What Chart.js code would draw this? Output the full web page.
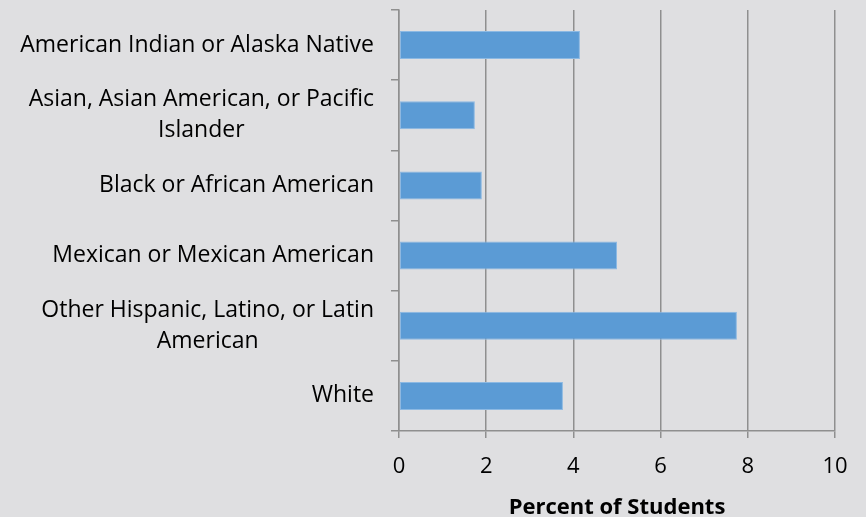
<!DOCTYPE html>
<html>
<head>
<meta charset="utf-8">
<script src="https://cdn.jsdelivr.net/npm/chart.js@4"></script>
<style>
  html,body{margin:0;padding:0;background:#dfdfe1}
  #wrap{width:866px;height:517px}
</style>
</head>
<body>
<div id="wrap"><canvas id="c"></canvas></div>
<script>
// data
const categories = [
  ['American Indian or Alaska Native'],
  ['Asian, Asian American, or Pacific', 'Islander'],
  ['Black or African American'],
  ['Mexican or Mexican American'],
  ['Other Hispanic, Latino, or Latin', 'American'],
  ['White']
];
const percents = [4.15, 1.74, 1.9, 5.0, 7.75, 3.76];
const xTicks = [0, 2, 4, 6, 8, 10];
const xTitle = 'Percent of Students';

const FONT = '"Open Sans", sans-serif';
const GRID = '#8f8f8f';

// draws the category labels right-aligned as a block, lines centred (Excel style)
const catLabels = {
  id: 'catLabels',
  afterDraw(chart){
    const y = chart.scales.y, ctx = chart.ctx;
    const right = y.right - 25, lineH = 31;
    ctx.save();
    ctx.font = '23px ' + FONT;
    ctx.fillStyle = '#000';
    ctx.textAlign = 'center';
    ctx.textBaseline = 'middle';
    categories.forEach((lines, i) => {
      const w = Math.max(...lines.map(l => ctx.measureText(l).width));
      const cx = right - w / 2;
      const cy = y.getPixelForValue(i);
      lines.forEach((l, j) => ctx.fillText(l, cx, cy + (j - (lines.length - 1) / 2) * lineH));
    });
    ctx.restore();
  }
};

Chart.defaults.animation = false;
new Chart(document.getElementById('c'), {
  type: 'bar',
  data: {
    labels: categories,
    datasets: [{
      data: percents,
      backgroundColor: '#5b9bd5',
      borderColor: '#8cb9e3',
      borderWidth: 1,
      borderSkipped: false,
      categoryPercentage: 1,
      barPercentage: 0.4
    }]
  },
  options: {
    indexAxis: 'y',
    responsive: true,
    maintainAspectRatio: false,
    layout: {padding: {top: 10, right: 31, left: 0, bottom: 0}},
    plugins: {legend: {display: false}, tooltip: {enabled: false}},
    scales: {
      x: {
        min: 0, max: 10,
        afterBuildTicks: s => { s.ticks = xTicks.map(v => ({value: v})); },
        afterFit: s => { s.height = 86; },
        grid: {color: GRID, lineWidth: 1.5, tickLength: 7, tickColor: GRID},
        border: {color: GRID, width: 1.5},
        ticks: {color: '#000', font: {family: FONT, size: 22}, padding: 16, maxRotation: 0},
        title: {display: true, text: xTitle, color: '#000', font: {family: FONT, size: 22, weight: 'bold'}, padding: {top: 4, bottom: -4}}
      },
      y: {
        afterFit: s => { s.width = 399; },
        grid: {drawOnChartArea: false, color: GRID, lineWidth: 1.5, tickLength: 8, offset: true},
        border: {color: GRID, width: 1.5},
        ticks: {display: false}
      }
    }
  },
  plugins: [catLabels]
});
</script>
</body>
</html>
